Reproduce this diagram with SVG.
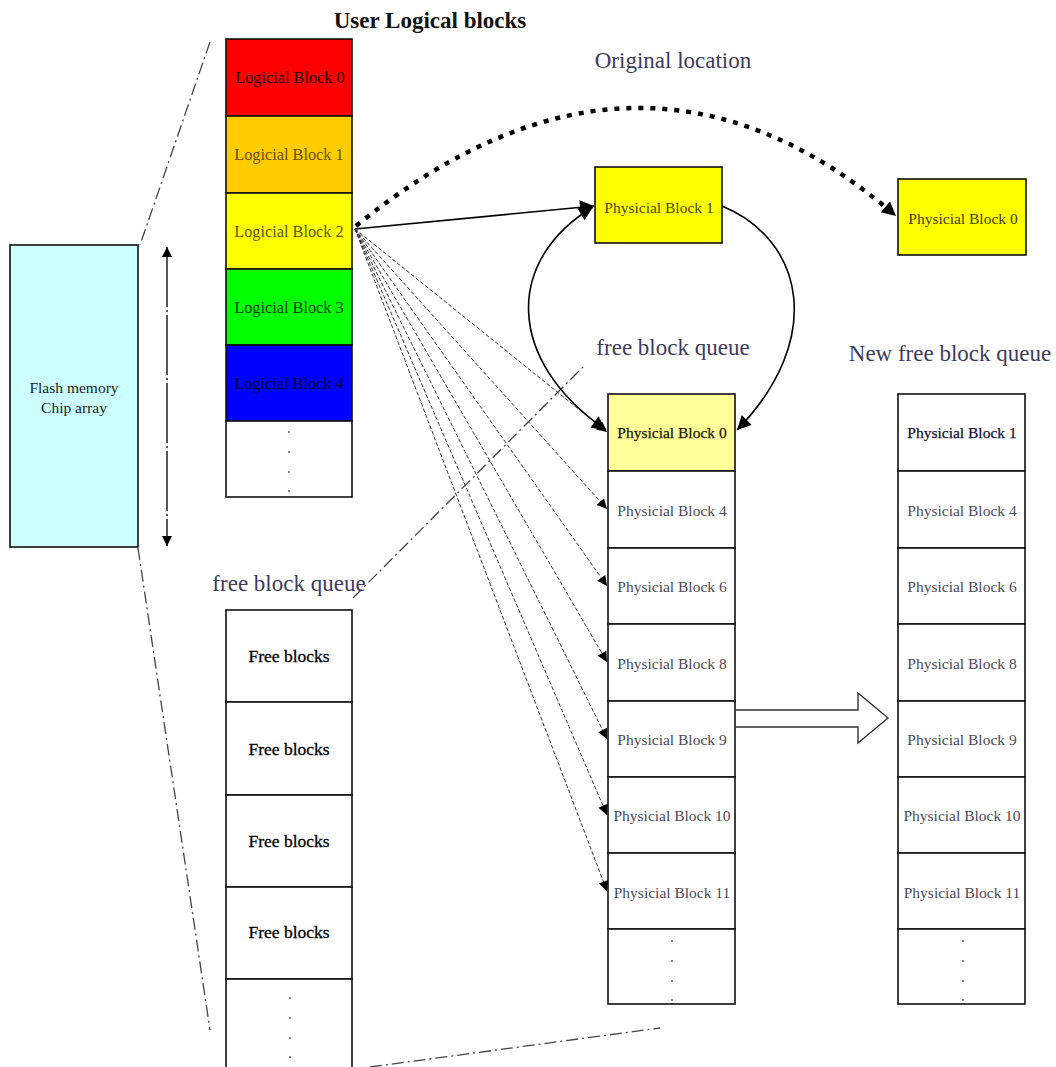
<svg xmlns="http://www.w3.org/2000/svg" width="1056" height="1067" viewBox="0 0 1056 1067">
  <style>
    .blk { stroke: #111; stroke-width: 1.6; }
    .lbl { font-family: "Liberation Serif", "Times New Roman", serif; font-size: 15.5px; text-anchor: middle; dominant-baseline: central; }
    .lg { font-size: 16.3px; }
    .fb { font-size: 17.5px; fill: #000; stroke: #000; stroke-width: 0.3; }
    .title { font-family: "Liberation Serif", "Times New Roman", serif; font-size: 23px; fill: #3c3c5c; text-anchor: middle; }
    .dots { fill: #705080; }
    .fan { fill: none; stroke: #333; stroke-width: 1; stroke-dasharray: 4 2; marker-end: url(#tip); }
    .zoom { fill: none; stroke: #444; stroke-width: 1.3; stroke-dasharray: 12 4 2 4; }
  </style>
  <defs>
    <marker id="tip" viewBox="0 0 10 10" refX="10" refY="5" markerWidth="12" markerHeight="10" markerUnits="userSpaceOnUse" orient="auto-start-reverse">
      <path d="M0,0 L10,5 L0,10 Z" fill="#000"/>
    </marker>
    <marker id="bigtip" viewBox="0 0 10 10" refX="10" refY="5" markerWidth="16" markerHeight="14" markerUnits="userSpaceOnUse" orient="auto-start-reverse">
      <path d="M0,0 L10,5 L0,10 Z" fill="#000"/>
    </marker>
    <g id="ell">
      <circle cx="0" cy="0" r="1"/>
      <circle cx="0" cy="20" r="1"/>
      <circle cx="0" cy="40" r="1"/>
      <circle cx="0" cy="59" r="1"/>
    </g>
  </defs>

  <rect width="1056" height="1067" fill="#fff"/>

  <!-- zoom-out guide lines (dash-dot) -->
  <g id="guides">
    <line class="zoom" x1="210" y1="42" x2="140" y2="245"/>
    <line class="zoom" x1="138" y1="548" x2="210" y2="1030"/>
    <line class="zoom" x1="370" y1="1067" x2="660" y2="1028"/>
    <line class="zoom" x1="353" y1="598" x2="584" y2="366"/>
  </g>

  <!-- titles -->
  <text x="430" y="28" font-family="Liberation Serif, serif" font-size="23" font-weight="bold" fill="#111" text-anchor="middle">User Logical blocks</text>
  <text class="title" x="673" y="68">Original location</text>
  <text class="title" x="673" y="355">free block queue</text>
  <text class="title" x="950" y="361">New free block queue</text>
  <text class="title" x="289" y="591">free block queue</text>

  <!-- flash memory chip array -->
  <g id="flash">
    <rect class="blk" x="10" y="245" width="128" height="302" fill="#ccffff"/>
    <text class="lbl" x="74" y="387" fill="#222" font-size="16.5">Flash memory</text>
    <text class="lbl" x="74" y="407" fill="#222" font-size="16.5">Chip array</text>
  </g>

  <!-- logical blocks -->
  <g id="logical">
    <rect class="blk" x="226" y="39" width="126" height="77" fill="#ff0000"/>
    <rect class="blk" x="226" y="116" width="126" height="77" fill="#ffcc00"/>
    <rect class="blk" x="226" y="193" width="126" height="76" fill="#ffff00"/>
    <rect class="blk" x="226" y="269" width="126" height="76" fill="#00ff00"/>
    <rect class="blk" x="226" y="345" width="126" height="76" fill="#0000ff"/>
    <rect class="blk" x="226" y="421" width="126" height="76" fill="#fff"/>
    <text class="lbl lg" x="290" y="77" fill="#200000">Logicial Block 0</text>
    <text class="lbl lg" x="289" y="154" fill="#6a5000">Logicial Block 1</text>
    <text class="lbl lg" x="289" y="231" fill="#5a5a00">Logicial Block 2</text>
    <text class="lbl lg" x="289" y="307" fill="#004400">Logicial Block 3</text>
    <text class="lbl lg" x="289" y="383" fill="#000044">Logicial Block 4</text>
    <use href="#ell" x="289" y="432" class="dots"/>
  </g>

  <!-- left free block queue -->
  <g id="freeq">
    <rect class="blk" x="226" y="610" width="126" height="92" fill="#fff"/>
    <rect class="blk" x="226" y="702" width="126" height="93" fill="#fff"/>
    <rect class="blk" x="226" y="795" width="126" height="92" fill="#fff"/>
    <rect class="blk" x="226" y="887" width="126" height="92" fill="#fff"/>
    <rect class="blk" x="226" y="979" width="126" height="100" fill="#fff"/>
    <text class="lbl fb" x="289" y="656">Free blocks</text>
    <text class="lbl fb" x="289" y="749">Free blocks</text>
    <text class="lbl fb" x="289" y="841">Free blocks</text>
    <text class="lbl fb" x="289" y="932">Free blocks</text>
    <use href="#ell" x="290" y="998" class="dots"/>
  </g>

  <!-- physical blocks at original locations -->
  <g id="pb1">
    <rect class="blk" x="595" y="167" width="127" height="76" fill="#ffff00"/>
    <text class="lbl" x="659" y="207" fill="#4a4a00">Physicial Block 1</text>
  </g>
  <g id="pb0">
    <rect class="blk" x="898" y="179" width="128" height="76" fill="#ffff00"/>
    <text class="lbl" x="963" y="218" fill="#4a3a00">Physicial Block 0</text>
  </g>

  <!-- current free block queue -->
  <g id="queue">
    <rect class="blk" x="608" y="394" width="127" height="77" fill="#ffff99"/>
    <rect class="blk" x="608" y="471" width="127" height="77" fill="#fff"/>
    <rect class="blk" x="608" y="548" width="127" height="76" fill="#fff"/>
    <rect class="blk" x="608" y="624" width="127" height="77" fill="#fff"/>
    <rect class="blk" x="608" y="701" width="127" height="76" fill="#fff"/>
    <rect class="blk" x="608" y="777" width="127" height="76" fill="#fff"/>
    <rect class="blk" x="608" y="853" width="127" height="76" fill="#fff"/>
    <rect class="blk" x="608" y="929" width="127" height="75" fill="#fff"/>
    <text class="lbl" x="672" y="432" fill="#1a1a00" stroke="#1a1a00" stroke-width="0.25">Physicial Block 0</text>
    <text class="lbl" x="672" y="510" fill="#4a4a5a">Physicial Block 4</text>
    <text class="lbl" x="672" y="586" fill="#4a4a5a">Physicial Block 6</text>
    <text class="lbl" x="672" y="663" fill="#4a4a5a">Physicial Block 8</text>
    <text class="lbl" x="672" y="739" fill="#4a4a5a">Physicial Block 9</text>
    <text class="lbl" x="672" y="815" fill="#4a4a5a">Physicial Block 10</text>
    <text class="lbl" x="672" y="892" fill="#4a4a5a">Physicial Block 11</text>
    <use href="#ell" x="672" y="941" class="dots"/>
  </g>

  <!-- new free block queue -->
  <g id="newqueue">
    <rect class="blk" x="898" y="394" width="127" height="77" fill="#fff"/>
    <rect class="blk" x="898" y="471" width="127" height="77" fill="#fff"/>
    <rect class="blk" x="898" y="548" width="127" height="76" fill="#fff"/>
    <rect class="blk" x="898" y="624" width="127" height="77" fill="#fff"/>
    <rect class="blk" x="898" y="701" width="127" height="76" fill="#fff"/>
    <rect class="blk" x="898" y="777" width="127" height="76" fill="#fff"/>
    <rect class="blk" x="898" y="853" width="127" height="76" fill="#fff"/>
    <rect class="blk" x="898" y="929" width="127" height="75" fill="#fff"/>
    <text class="lbl" x="962" y="432" fill="#111133" stroke="#111133" stroke-width="0.25">Physicial Block 1</text>
    <text class="lbl" x="962" y="510" fill="#4a4a5a">Physicial Block 4</text>
    <text class="lbl" x="962" y="586" fill="#4a4a5a">Physicial Block 6</text>
    <text class="lbl" x="962" y="663" fill="#4a4a5a">Physicial Block 8</text>
    <text class="lbl" x="962" y="739" fill="#4a4a5a">Physicial Block 9</text>
    <text class="lbl" x="962" y="815" fill="#4a4a5a">Physicial Block 10</text>
    <text class="lbl" x="962" y="892" fill="#4a4a5a">Physicial Block 11</text>
    <use href="#ell" x="963" y="941" class="dots"/>
  </g>

  <!-- connectors -->
  <g id="connectors">
    <!-- chip array extent -->
    <line x1="167" y1="247" x2="167" y2="546" stroke="#111" stroke-width="1.4" stroke-dasharray="60 3 2 3" marker-start="url(#tip)" marker-end="url(#tip)"/>
    <!-- logical block 2 to its original location -->
    <path d="M356,226 Q640,-5 896,216" fill="none" stroke="#000" stroke-width="4.5" stroke-dasharray="5 7" marker-end="url(#bigtip)"/>
    <!-- logical block 2 to newly allocated block -->
    <line x1="355" y1="229" x2="594" y2="206" stroke="#000" stroke-width="1.6" marker-end="url(#bigtip)"/>
    <!-- candidate free blocks -->
    <line class="fan" x1="355" y1="229" x2="607" y2="432"/>
    <line class="fan" x1="355" y1="229" x2="607" y2="509"/>
    <line class="fan" x1="355" y1="229" x2="607" y2="586"/>
    <line class="fan" x1="355" y1="229" x2="607" y2="662"/>
    <line class="fan" x1="355" y1="229" x2="607" y2="739"/>
    <line class="fan" x1="355" y1="229" x2="607" y2="815"/>
    <line class="fan" x1="355" y1="229" x2="607" y2="891"/>
    <!-- swap between head of queue and physical block 1 -->
    <path d="M606,430 C505,360 505,260 593,207" fill="none" stroke="#000" stroke-width="1.6" marker-start="url(#bigtip)" marker-end="url(#bigtip)"/>
    <path d="M722,206 C805,240 825,340 737,430" fill="none" stroke="#000" stroke-width="1.6" marker-end="url(#bigtip)"/>
    <!-- queue update -->
    <path d="M736,710 H858 V693 L888,718 L858,743 V727 H736" fill="#fff" stroke="#333" stroke-width="1.4"/>
  </g>
</svg>
